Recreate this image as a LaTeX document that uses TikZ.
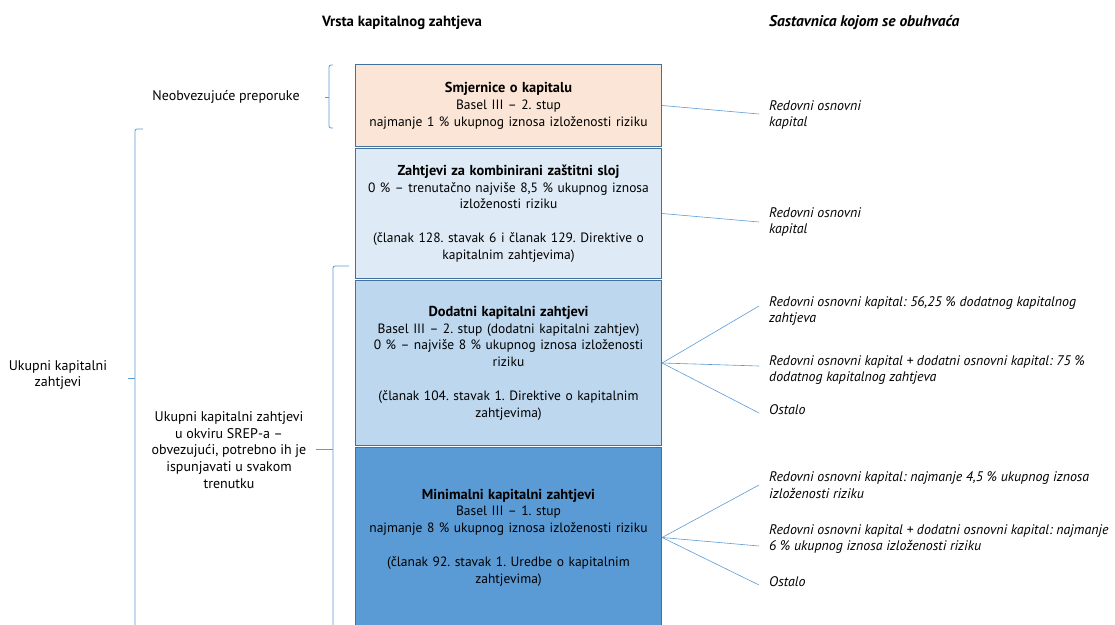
\documentclass[tikz,border=0pt]{standalone}
\usepackage{fontspec}
\setmainfont{PT Sans}
\frenchspacing
\usetikzlibrary{positioning}
\definecolor{peach}{HTML}{FBE5D6}
\definecolor{paleblue}{HTML}{DEEBF7}
\definecolor{midblue}{HTML}{BDD7EE}
\definecolor{deepblue}{HTML}{5B9BD5}
\definecolor{edgeblue}{HTML}{41719C}
\definecolor{linkblue}{HTML}{5B9BD5}
\newcommand{\tiername}[1]{{\fontsize{14.4}{16.8}\selectfont\bfseries #1}}

\tikzset{
  tier/.style={draw=edgeblue, line width=1.2pt, minimum width=306pt, text width=304pt,
    align=center, inner sep=0pt, font=\fontsize{13.5}{16.8}\selectfont},
  note/.style={anchor=west, align=left, inner sep=0pt, font=\fontsize{13.9}{16.8}\selectfont\itshape},
  side/.style={align=center, inner sep=0pt, font=\fontsize{14}{16.8}\selectfont},
  head/.style={inner sep=0pt, font=\fontsize{14.8}{15}\selectfont\bfseries},
  link/.style={draw=linkblue, line width=0.6pt},
  brace/.style={draw=linkblue, line width=0.8pt, rounded corners=2pt}
}

\begin{document}
\begin{tikzpicture}[x=1pt,y=-1pt]
\useasboundingbox (0,0) rectangle (1115,624);

\node[head] (headtype) at (402,23) {Vrsta kapitalnog zahtjeva};
\node[head, anchor=west, font=\fontsize{15.5}{15}\selectfont\bfseries\itshape] (headpart) at (769,23) {Sastavnica kojom se obuhvaća};

\node[tier, fill=peach, minimum height=82pt] (guide) at (508.5,105.5)
  {\tiername{Smjernice o kapitalu}\\Basel III – 2. stup\\najmanje 1 \% ukupnog iznosa izloženosti riziku};
\node[tier, fill=paleblue, minimum height=130pt] (buffer) at (508.5,213.5)
  {\tiername{Zahtjevi za kombinirani zaštitni sloj}\\0 \% – trenutačno najviše 8,5 \% ukupnog iznosa\\izloženosti riziku\\[16.8pt](članak 128. stavak 6 i članak 129. Direktive o\\kapitalnim zahtjevima)};
\node[tier, fill=midblue, minimum height=165pt] (extra) at (508.5,363)
  {\tiername{Dodatni kapitalni zahtjevi}\\Basel III – 2. stup (dodatni kapitalni zahtjev)\\0 \% – najviše 8 \% ukupnog iznosa izloženosti\\riziku\\[16.8pt](članak 104. stavak 1. Direktive o kapitalnim\\zahtjevima)};
\node[tier, fill=deepblue, minimum height=180pt] (minimum) at (508.5,537.5)
  {\tiername{Minimalni kapitalni zahtjevi}\\Basel III – 1. stup\\najmanje 8 \% ukupnog iznosa izloženosti riziku\\[16.8pt](članak 92. stavak 1. Uredbe o kapitalnim\\zahtjevima)};

\node[note] (g1) at (769,115) {Redovni osnovni\\kapital};
\node[note] (b1) at (769,222) {Redovni osnovni\\kapital};
\node[note] (x1) at (769,311) {Redovni osnovni kapital: 56,25 \% dodatnog kapitalnog\\zahtjeva};
\node[note] (x2) at (769,370) {Redovni osnovni kapital + dodatni osnovni kapital: 75 \%\\dodatnog kapitalnog zahtjeva};
\node[note] (x3) at (769,410) {Ostalo};
\node[note] (m1) at (769,485) {Redovni osnovni kapital: najmanje 4,5 \% ukupnog iznosa\\izloženosti riziku};
\node[note] (m2) at (769,539) {Redovni osnovni kapital + dodatni osnovni kapital: najmanje\\6 \% ukupnog iznosa izloženosti riziku};
\node[note] (m3) at (769,582) {Ostalo};

\coordinate (g1end) at (759,114);
\coordinate (b1end) at (759,222);
\coordinate (x1end) at (759,306);
\coordinate (x2end) at (759,366);
\coordinate (x3end) at (759,413);
\coordinate (m1end) at (759,485);
\coordinate (m2end) at (759,546);
\coordinate (m3end) at (759,585);

\draw[link] (guide.east) -- (g1end);
\draw[link] (buffer.east) -- (b1end);
\draw[link] (extra.east) -- (x1end);
\draw[link] (extra.east) -- (x2end);
\draw[link] (extra.east) -- (x3end);
\draw[link] (minimum.east) -- (m1end);
\draw[link] (minimum.east) -- (m2end);
\draw[link] (minimum.east) -- (m3end);

\node[side] (advice) at (226,97) {Neobvezujuće preporuke};
\node[side] (total) at (58,375) {Ukupni kapitalni\\zahtjevi};
\node[side] (srep) at (229,450) {Ukupni kapitalni zahtjevi\\u okviru SREP-a –\\obvezujući, potrebno ih je\\ispunjavati u svakom\\trenutku};

\draw[brace] (333,65) -| (329,128) -- (333,128);
\draw[link] (325,97) -- (329,97);
\draw[brace] (143,129) -| (135,640);
\draw[link] (128,378) -- (135,378);
\draw[brace] (349,266) -| (333,640);
\draw[link] (316,449) -- (333,449);
\end{tikzpicture}
\end{document}
